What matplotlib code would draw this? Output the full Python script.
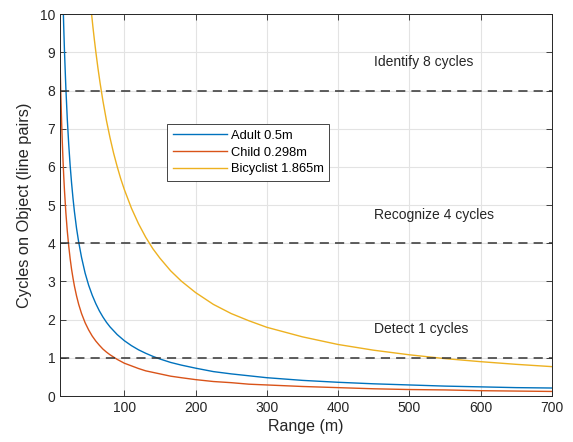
import matplotlib
matplotlib.use('Agg')
import matplotlib.pyplot as plt

plt.rcParams['font.family'] = ['Liberation Sans', 'DejaVu Sans']

# values
ranges = [10, 11, 12, 13, 14, 15, 16, 18, 20, 22, 24, 26, 28, 30, 33, 36, 40, 45,
          50, 55, 60, 65, 70, 75, 80, 90, 100, 110, 120, 130, 140, 150, 165, 180,
          200, 225, 250, 275, 300, 350, 400, 450, 500, 550, 600, 650, 700]
adult = [14.5, 13.18, 12.08, 11.15, 10.36, 9.67, 9.06, 8.06, 7.25, 6.59, 6.04,
         5.58, 5.18, 4.83, 4.39, 4.03, 3.63, 3.22, 2.9, 2.64, 2.42, 2.23, 2.07,
         1.93, 1.81, 1.61, 1.45, 1.32, 1.21, 1.12, 1.04, 0.97, 0.88, 0.81, 0.73,
         0.64, 0.58, 0.53, 0.48, 0.41, 0.36, 0.32, 0.29, 0.26, 0.24, 0.22, 0.21]
child = [8.64, 7.85, 7.2, 6.65, 6.17, 5.76, 5.4, 4.8, 4.32, 3.93, 3.6, 3.32, 3.09,
         2.88, 2.62, 2.4, 2.16, 1.92, 1.73, 1.57, 1.44, 1.33, 1.23, 1.15, 1.08,
         0.96, 0.86, 0.79, 0.72, 0.66, 0.62, 0.58, 0.52, 0.48, 0.43, 0.38, 0.35,
         0.31, 0.29, 0.25, 0.22, 0.19, 0.17, 0.16, 0.14, 0.13, 0.12]
ranges_bike = [50, 52, 54, 56, 58, 60, 63, 66, 70, 75, 80, 85, 90, 95, 100, 110,
               120, 130, 140, 150, 165, 180, 200, 225, 250, 275, 300, 350, 400,
               450, 500, 550, 600, 650, 700]
bike = [10.82, 10.4, 10.02, 9.66, 9.33, 9.02, 8.59, 8.2, 7.73, 7.21, 6.76, 6.36,
        6.01, 5.69, 5.41, 4.92, 4.51, 4.16, 3.86, 3.61, 3.28, 3.01, 2.71, 2.4,
        2.16, 1.97, 1.8, 1.55, 1.35, 1.2, 1.08, 0.98, 0.9, 0.83, 0.77]

thresholds = [8, 4, 1]
threshold_labels = ['Identify 8 cycles', 'Recognize 4 cycles', 'Detect 1 cycles']

fig = plt.figure(figsize=(5.73, 4.42), dpi=100)
ax = fig.add_axes([0.105, 0.104, 0.858, 0.864])

ax.plot(ranges, adult, color=(0, 0.447, 0.741), lw=1.0, label='Adult 0.5m')
ax.plot(ranges, child, color=(0.85, 0.325, 0.098), lw=1.0, label='Child 0.298m')
ax.plot(ranges_bike, bike, color=(0.929, 0.694, 0.125), lw=1.0, label='Bicyclist 1.865m')

for t, lab in zip(thresholds, threshold_labels):
    ax.axhline(t, color='#333333', lw=1.1, ls=(0, (6, 4)))
    ax.text(451, t + 0.75, lab, fontsize=10, color='#262626', va='center', ha='left')

ax.set_xlim(10, 700)
ax.set_ylim(0, 10)
ax.set_xticks(range(100, 701, 100))
ax.set_yticks(range(0, 11))
ax.grid(True, color='#e3e3e3', lw=0.8)
ax.set_axisbelow(True)
ax.tick_params(direction='in', top=True, right=True, labelsize=10,
               colors='#262626', length=4, width=0.6)
for s in ax.spines.values():
    s.set_color('#262626')
    s.set_linewidth(0.7)

ax.set_xlabel('Range (m)', fontsize=11.5, color='#262626', labelpad=3)
ax.set_ylabel('Cycles on Object (line pairs)', fontsize=11.8, color='#262626', labelpad=6)

leg = ax.legend(loc='upper left', bbox_to_anchor=(0.217, 0.712), fontsize=9.3,
                handlelength=4.2, handletextpad=0.3, borderpad=0.45,
                labelspacing=0.35, fancybox=False, framealpha=1, borderaxespad=0)
leg.get_frame().set_edgecolor('#262626')
leg.get_frame().set_linewidth(0.6)

fig.savefig('out.png', dpi=100)
